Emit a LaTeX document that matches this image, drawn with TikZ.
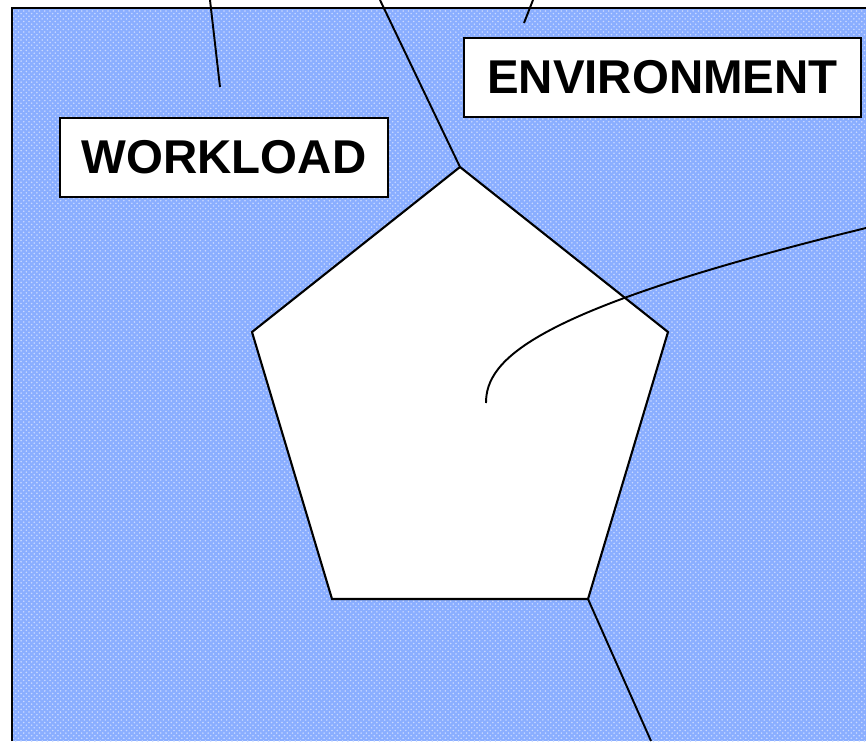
\documentclass[tikz,border=0pt]{standalone}
\usepackage{fontspec}
\setmainfont{Liberation Sans}
\usepackage{tikz}
\usetikzlibrary{patterns}
\definecolor{hatchblue}{RGB}{138,174,255}
\definecolor{hatchlight}{RGB}{200,216,255}

\begin{document}
\begin{tikzpicture}[
  x=0.02cm, y=-0.02cm,
  label/.style={draw=black, fill=white, line width=1.2pt, inner sep=0pt,
    minimum height=1.58cm, font=\fontsize{27}{32}\selectfont\bfseries},
  wire/.style={black, line width=1.1pt},
  field/.style={preaction={fill=hatchblue}, pattern=crosshatch dots, pattern color=hatchlight}
]
\useasboundingbox (0,0) rectangle (866,741);

\path[field] (12,8) rectangle (866,741);
\draw[line width=1.6pt] (12,741) -- (12,8) -- (866,8);

\coordinate (top) at (460,167);
\coordinate (right) at (668,332);
\coordinate (lowright) at (588,599);
\coordinate (lowleft) at (332,599);
\coordinate (left) at (252,332);
\filldraw[fill=white, draw=black, line width=1.2pt]
  (top) -- (right) -- (lowright) -- (lowleft) -- (left) -- cycle;

\coordinate (w1) at (210,0);
\coordinate (w2) at (220,87);
\coordinate (e1) at (533,0);
\coordinate (e2) at (524,23);
\coordinate (apexend) at (380,0);
\coordinate (baseend) at (651,741);
\coordinate (inside) at (486,403);
\coordinate (rightend) at (866,228);

\draw[wire] (w1) -- (w2);
\draw[wire] (e1) -- (e2);
\draw[wire] (apexend) -- (top);
\draw[wire] (lowright) -- (baseend);
\draw[wire] (inside) .. controls (486,360) and (530,310) .. (rightend);

\node[label, minimum width=6.56cm] (workload) at (224,157.5) {WORKLOAD};
\node[label, minimum width=7.94cm] (environment) at (662.5,77.5) {ENVIRONMENT};
\end{tikzpicture}
\end{document}
